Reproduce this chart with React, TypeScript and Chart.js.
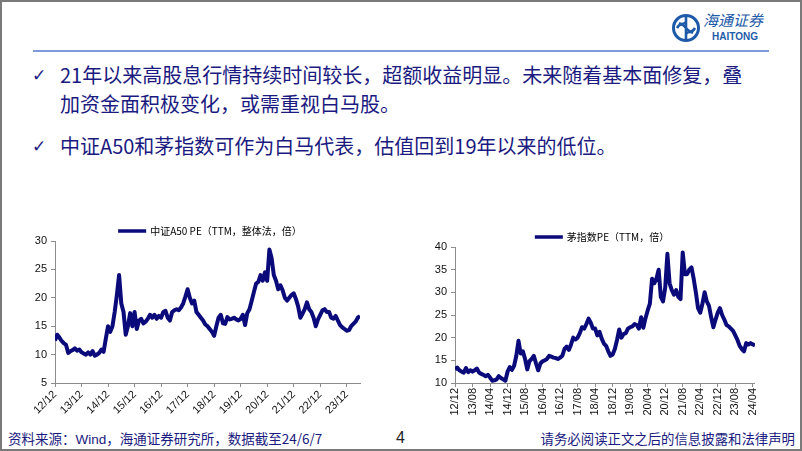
import React, { useEffect, useRef } from 'react';
import { Chart, registerables } from 'chart.js';

Chart.register(...registerables);

// ---------- data ----------
const a50Label = '中证A50 PE（TTM，整体法，倍）';
// monthly values starting 2012-12
const a50Values = [
  12.5, 13.5, 13.0, 12.4, 12.0, 11.7, 10.3, 10.6, 10.8, 11.1, 10.7, 10.9,
  10.4, 10.2, 10.0, 10.4, 10.0, 10.6, 9.8, 10.0, 10.3, 10.9, 10.5, 12.8,
  15.0, 14.0, 15.0, 17.5, 20.5, 24.0, 19.0, 17.5, 13.5, 15.0, 17.3, 15.0,
  17.5, 14.5, 16.0, 16.3, 15.5, 15.8, 16.3, 17.0, 16.5, 17.0, 16.3, 16.8,
  16.5, 17.5, 17.7, 16.5, 16.0, 17.5, 17.8, 18.0, 17.8, 18.3, 19.0, 20.2,
  21.5, 20.0, 19.0, 19.5, 17.5, 17.0, 16.5, 16.0, 15.3, 15.0, 14.5, 14.0,
  13.3, 15.0, 16.5, 17.0, 15.5, 15.4, 16.6, 16.2, 16.3, 16.5, 16.2, 16.0,
  16.3, 17.0, 15.2, 17.3, 18.0, 19.5, 21.0, 22.5, 22.8, 24.0, 23.0, 24.5,
  23.0, 28.5, 27.0, 24.0, 23.0, 21.5, 22.2, 21.3, 20.0, 19.5, 20.0, 20.5,
  20.8, 19.8, 18.5, 16.5, 17.2, 18.0, 19.2, 18.0, 17.5, 16.5, 15.0, 16.2,
  17.0, 17.8, 18.0, 17.5, 17.5, 16.5, 16.3, 16.8, 16.0, 15.2, 14.8, 14.5,
  14.2, 14.3, 15.0, 15.4, 15.8, 16.5, 16.8,
];
const a50TickMonths = [0, 12, 24, 36, 48, 60, 72, 84, 96, 108, 120, 132];
const a50TickLabels = ['12/12', '13/12', '14/12', '15/12', '16/12', '17/12', '18/12', '19/12', '20/12', '21/12', '22/12', '23/12'];
const a50YTicks = [5, 10, 15, 20, 25, 30];

const maoLabel = '茅指数PE（TTM，倍）';
const maoValues = [
  13.0, 13.4, 12.8, 12.5, 12.3, 13.3, 12.4, 12.8, 12.5, 12.8, 13.2, 12.3,
  12.0, 11.8, 11.5, 11.8, 11.2, 10.5, 10.6, 10.8, 11.5, 11.1, 10.8, 10.5,
  12.5, 13.5, 12.9, 13.8, 16.0, 19.3, 16.5, 17.0, 15.3, 13.0, 14.8, 15.3,
  16.0, 14.3, 12.8, 14.3, 14.8, 15.0, 15.3, 16.0, 15.8, 15.6, 15.5, 15.3,
  15.6, 16.0, 17.5, 18.0, 17.3, 18.5, 20.0, 19.6, 20.0, 21.0, 22.3, 22.0,
  23.0, 24.2, 23.3, 22.0, 22.0, 20.5, 21.3, 19.8, 18.7, 18.2, 17.0, 16.0,
  16.3, 17.5, 19.5, 21.8, 20.0, 20.8, 21.0, 22.0, 22.3, 22.5, 23.0, 22.8,
  22.0, 24.5, 22.2, 24.3, 26.0, 27.5, 33.0, 32.0, 33.0, 35.0, 29.0, 28.0,
  31.0, 38.5, 32.0, 30.5, 29.5, 30.5, 29.0, 28.5, 38.8, 34.0, 34.0, 35.0,
  35.5, 33.0, 30.0, 26.5, 25.5, 27.5, 30.0, 28.0, 27.0, 24.5, 22.3, 24.0,
  25.5, 26.5, 25.0, 24.0, 22.8, 22.5, 22.0, 21.5, 20.5, 19.5, 18.2, 17.5,
  17.0, 18.8, 18.5, 18.8, 18.5, 18.3,
];
const maoTickMonths = [0, 8, 16, 24, 32, 40, 48, 56, 64, 72, 80, 88, 96, 104, 112, 120, 128, 136];
const maoTickLabels = ['12/12', '13/08', '14/04', '14/12', '15/08', '16/04', '16/12', '17/08', '18/04', '18/12', '19/08', '20/04', '20/12', '21/08', '22/04', '22/12', '23/08', '24/04'];
const maoYTicks = [10, 15, 20, 25, 30, 35, 40];

// ---------- styles ----------
const NAVY = '#0a0a7a';
const AXIS = '#8c8c8c';
const TEXT_BLUE = '#1a1a80';
const TICK_FONT = { family: 'Arial, "Liberation Sans", sans-serif', size: 11 };

const topLegend = {
  id: 'topLegend',
  afterDraw(chart: any, _args: any, opts: any) {
    const { ctx, chartArea } = chart;
    const ds = chart.data.datasets[0];
    ctx.save();
    ctx.font = opts.font;
    const textW = ctx.measureText(ds.label).width;
    const total = opts.lineLen + opts.gap + textW;
    const cx = (chartArea.left + chartArea.right) / 2 + opts.offsetX;
    const y = chartArea.top - opts.offsetY;
    const x = cx - total / 2;
    ctx.strokeStyle = ds.borderColor;
    ctx.lineWidth = opts.thickness;
    ctx.beginPath();
    ctx.moveTo(x, y);
    ctx.lineTo(x + opts.lineLen, y);
    ctx.stroke();
    ctx.fillStyle = '#000';
    ctx.textBaseline = 'middle';
    ctx.textAlign = 'left';
    ctx.fillText(ds.label, x + opts.lineLen + opts.gap, y + 0.5);
    ctx.restore();
  },
};

function buildConfig(
  label: string,
  values: number[],
  tickMonths: number[],
  tickLabels: string[],
  yTicks: number[],
  xMax: number,
  rotation: number,
  yAxisWidth: number,
  padTop: number,
  legendOffsetX: number,
): any {
  return {
    type: 'line',
    data: {
      datasets: [
        {
          label,
          data: values.map((v, i) => ({ x: i, y: v })),
          borderColor: NAVY,
          backgroundColor: NAVY,
          borderWidth: 4,
          pointRadius: 0,
          tension: 0,
          borderJoinStyle: 'round',
        },
      ],
    },
    plugins: [topLegend],
    options: {
      responsive: false,
      animation: false,
      devicePixelRatio: 1,
      layout: { padding: { top: padTop, right: 2, bottom: 5, left: 0 } },
      plugins: {
        legend: { display: false },
        tooltip: { enabled: false },
        topLegend: {
          font: '10px "Noto Sans CJK SC", sans-serif',
          lineLen: 28,
          gap: 4,
          thickness: 3.5,
          offsetX: legendOffsetX,
          offsetY: 10,
        },
      },
      scales: {
        x: {
          type: 'linear',
          min: 0,
          max: xMax,
          afterBuildTicks: (s: any) => {
            s.ticks = tickMonths.map((v) => ({ value: v }));
          },
          afterFit: (s: any) => {
            s.height = 32;
          },
          ticks: {
            autoSkip: false,
            maxRotation: rotation,
            minRotation: rotation,
            padding: 1,
            font: TICK_FONT,
            color: '#111',
            callback: (v: number) => {
              const k = tickMonths.indexOf(v);
              return k >= 0 ? tickLabels[k] : null;
            },
          },
          grid: { drawOnChartArea: false, drawTicks: true, tickLength: 4, color: AXIS },
          border: { color: AXIS, width: 1 },
        },
        y: {
          min: yTicks[0],
          max: yTicks[yTicks.length - 1],
          afterBuildTicks: (s: any) => {
            s.ticks = yTicks.map((v) => ({ value: v }));
          },
          afterFit: (s: any) => {
            s.width = yAxisWidth;
          },
          ticks: { padding: 4, font: TICK_FONT, color: '#111' },
          grid: { drawOnChartArea: false, drawTicks: true, tickLength: 4, color: AXIS },
          border: { color: AXIS, width: 1 },
        },
      },
    },
  };
}

function Logo() {
  return (
    <svg width={30} height={30} viewBox="0 0 30 30" style={{ position: 'absolute', left: 671, top: 13 }}>
      <circle cx={15} cy={15} r={12.5} fill="none" stroke="#1d5aa8" strokeWidth={3} />
      <path d="M15 3 L15 27 M6 15 Q10 8 15 15 Q20 22 24 15" fill="none" stroke="#1d5aa8" strokeWidth={2.6} />
      <path d="M8 10 Q12 12 15 9 M22 20 Q18 18 15 21" fill="none" stroke="#1d5aa8" strokeWidth={2} />
    </svg>
  );
}

export default function App() {
  const leftRef = useRef<HTMLCanvasElement>(null);
  const rightRef = useRef<HTMLCanvasElement>(null);

  useEffect(() => {
    const c1 = new Chart(
      leftRef.current as HTMLCanvasElement,
      buildConfig(a50Label, a50Values, a50TickMonths, a50TickLabels, a50YTicks, 138, 45, 40, 26, 2.5),
    );
    const c2 = new Chart(
      rightRef.current as HTMLCanvasElement,
      buildConfig(maoLabel, maoValues, maoTickMonths, maoTickLabels, maoYTicks, 137, 90, 45, 32, -3),
    );
    return () => {
      c1.destroy();
      c2.destroy();
    };
  }, []);

  const cjk = '"Noto Sans CJK SC", "Noto Sans", sans-serif';
  const abs = (o: any): React.CSSProperties => ({ position: 'absolute', whiteSpace: 'nowrap', ...o });

  return (
    <div
      style={{
        position: 'fixed',
        left: 0,
        top: 0,
        width: 802,
        height: 451,
        background: '#fff',
        overflow: 'hidden',
        fontFamily: cjk,
      }}
    >
      {/* header */}
      <Logo />
      <div style={abs({ left: 703, top: 11, fontSize: 15, lineHeight: '18px', color: '#1d5aa8', fontStyle: 'italic', letterSpacing: 0 })}>海通证券</div>
      <div style={abs({ left: 712, top: 31, fontSize: 10, lineHeight: '12px', color: '#1d5aa8', fontWeight: 700, fontFamily: 'Arial, "Liberation Sans", sans-serif' })}>HAITONG</div>
      <div style={abs({ left: 33, top: 50, width: 736, height: 1.5, background: '#7f9ad8' })} />

      {/* bullets */}
      <div style={abs({ left: 32, top: 62, fontSize: 17, lineHeight: '26px', color: TEXT_BLUE, fontFamily: '"DejaVu Sans", sans-serif' })}>✓</div>
      <div style={abs({ left: 60, top: 61, fontSize: 20, lineHeight: '28px', color: TEXT_BLUE })}>21年以来高股息行情持续时间较长，超额收益明显。未来随着基本面修复，叠</div>
      <div style={abs({ left: 60, top: 90, fontSize: 20, lineHeight: '28px', color: TEXT_BLUE })}>加资金面积极变化，或需重视白马股。</div>
      <div style={abs({ left: 32, top: 133, fontSize: 17, lineHeight: '26px', color: TEXT_BLUE, fontFamily: '"DejaVu Sans", sans-serif' })}>✓</div>
      <div style={abs({ left: 60, top: 132, fontSize: 20, lineHeight: '28px', color: TEXT_BLUE })}>中证A50和茅指数可作为白马代表，估值回到19年以来的低位。</div>

      {/* charts */}
      <canvas ref={leftRef} width={347} height={205} style={{ position: 'absolute', left: 15, top: 215 }} />
      <canvas ref={rightRef} width={357} height={205} style={{ position: 'absolute', left: 410, top: 215 }} />

      {/* footer */}
      <div style={abs({ left: 8, top: 429, fontSize: 13.5, lineHeight: '18px', color: TEXT_BLUE })}>
        资料来源：<span style={{ fontFamily: 'Arial, "Liberation Sans", sans-serif' }}>Wind</span>，海通证券研究所，数据截至24/6/7
      </div>
      <div style={abs({ left: 396, top: 428, fontSize: 16, lineHeight: '20px', color: '#222', fontFamily: 'Arial, "Liberation Sans", sans-serif' })}>4</div>
      <div style={abs({ right: 7, top: 429, fontSize: 13.4, lineHeight: '18px', color: TEXT_BLUE })}>请务必阅读正文之后的信息披露和法律声明</div>

      {/* frame */}
      <div style={{ position: 'absolute', left: 0, top: 0, width: 802, height: 451, boxSizing: 'border-box', border: '2px solid #7a7a7a', pointerEvents: 'none' }} />
    </div>
  );
}
